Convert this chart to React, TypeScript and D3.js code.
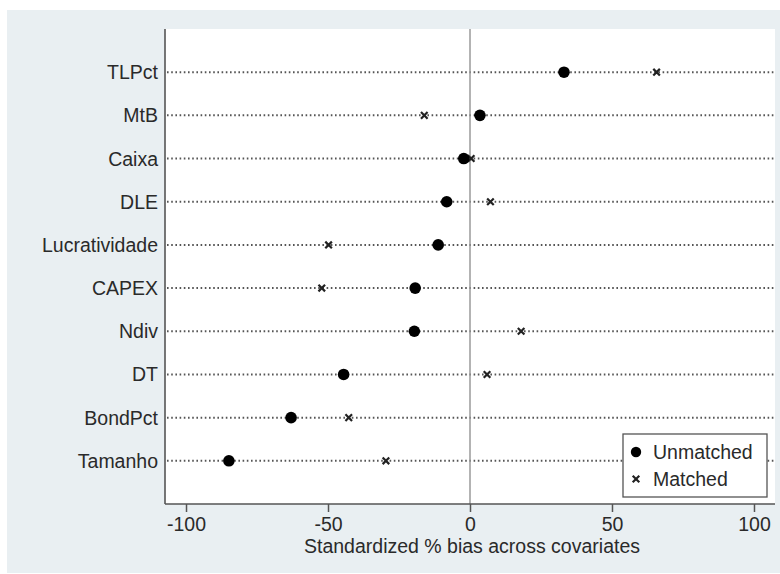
import React, { useRef, useEffect } from 'react';
import * as d3 from 'd3';

// covariates, top to bottom
const covariates = ['TLPct', 'MtB', 'Caixa', 'DLE', 'Lucratividade', 'CAPEX', 'Ndiv', 'DT', 'BondPct', 'Tamanho'];
const unmatched = [33.1, 3.5, -2.2, -8.2, -11.2, -19.3, -19.6, -44.5, -63.0, -84.9];
const matched = [65.7, -16.1, 0.4, 7.2, -49.8, -52.2, 18.0, 6.0, -42.7, -29.6];
const xTicks = [-100, -50, 0, 50, 100];
const legendLabels = ['Unmatched', 'Matched'];

const W = 780;
const H = 574;
const FONT = '"Liberation Sans", Arial, Helvetica, sans-serif';
const TEXT = '#2a2a2a';

const App = () => {
  const svgRef = useRef<SVGSVGElement>(null);

  useEffect(() => {
    document.body.style.margin = '0';
    const svg = d3.select(svgRef.current);
    svg.selectAll('*').remove();

    // outer background
    svg.append('rect')
      .attr('x', 7).attr('y', 10)
      .attr('width', W - 7).attr('height', H - 11)
      .attr('fill', '#e9eff2');

    const plot = { left: 165, right: 775, top: 29, bottom: 504 };

    svg.append('rect')
      .attr('x', plot.left).attr('y', plot.top)
      .attr('width', plot.right - plot.left).attr('height', plot.bottom - plot.top)
      .attr('fill', '#ffffff');

    const x = d3.scaleLinear()
      .domain([-107.4, 107.4])
      .range([plot.left, plot.right]);

    const y = d3.scalePoint<string>()
      .domain(covariates)
      .range([plot.top, plot.bottom])
      .padding(1);

    // dotted row lines
    svg.append('g')
      .selectAll('line')
      .data(covariates)
      .join('line')
      .attr('x1', plot.left + 2)
      .attr('x2', plot.right)
      .attr('y1', d => y(d)!)
      .attr('y2', d => y(d)!)
      .attr('stroke', '#555')
      .attr('stroke-width', 2)
      .attr('stroke-dasharray', '1.6,2.6');

    // zero reference line
    svg.append('line')
      .attr('x1', x(0)).attr('x2', x(0))
      .attr('y1', plot.top).attr('y2', plot.bottom)
      .attr('stroke', '#9a9a9a')
      .attr('stroke-width', 1.5);

    // axes
    const axisColor = '#555';
    svg.append('line')
      .attr('x1', plot.left).attr('x2', plot.left)
      .attr('y1', plot.top).attr('y2', plot.bottom)
      .attr('stroke', axisColor).attr('stroke-width', 1.6);
    svg.append('line')
      .attr('x1', plot.left).attr('x2', plot.right)
      .attr('y1', plot.bottom).attr('y2', plot.bottom)
      .attr('stroke', axisColor).attr('stroke-width', 1.6);

    const xAxis = svg.append('g')
      .attr('transform', `translate(0,${plot.bottom})`)
      .call(d3.axisBottom(x).tickValues(xTicks).tickFormat(d => String(d)).tickSize(8).tickPadding(5).tickSizeOuter(0));
    xAxis.select('.domain').remove();
    xAxis.selectAll('line').attr('stroke', axisColor).attr('stroke-width', 1.5);
    xAxis.selectAll('text')
      .attr('font-family', FONT)
      .attr('font-size', 19.5)
      .attr('fill', TEXT);

    // row labels
    svg.append('g')
      .selectAll('text')
      .data(covariates)
      .join('text')
      .attr('x', plot.left - 7)
      .attr('y', d => y(d)! + 7)
      .attr('text-anchor', 'end')
      .attr('font-family', FONT)
      .attr('font-size', 19.5)
      .attr('fill', TEXT)
      .text(d => d);

    // axis title
    svg.append('text')
      .attr('x', 472)
      .attr('y', 553)
      .attr('text-anchor', 'middle')
      .attr('font-family', FONT)
      .attr('font-size', 19.5)
      .attr('fill', TEXT)
      .text('Standardized % bias across covariates');

    const drawCross = (g: any, cx: number, cy: number) => {
      const s = 3.3;
      g.append('path')
        .attr('d', `M${cx - s},${cy - s}L${cx + s},${cy + s}M${cx - s},${cy + s}L${cx + s},${cy - s}`)
        .attr('stroke', '#222')
        .attr('stroke-width', 2.2)
        .attr('fill', 'none');
    };

    // matched markers
    const mg = svg.append('g');
    matched.forEach((v, i) => drawCross(mg, x(v), y(covariates[i])!));

    // unmatched markers
    svg.append('g')
      .selectAll('circle')
      .data(unmatched)
      .join('circle')
      .attr('cx', d => x(d))
      .attr('cy', (d, i) => y(covariates[i])!)
      .attr('r', 5.8)
      .attr('fill', '#000');

    // legend
    const lg = svg.append('g');
    lg.append('rect')
      .attr('x', 623).attr('y', 434)
      .attr('width', 144).attr('height', 63)
      .attr('fill', '#fff')
      .attr('stroke', '#555')
      .attr('stroke-width', 1.3);
    lg.append('circle')
      .attr('cx', 636).attr('cy', 452)
      .attr('r', 5.2)
      .attr('fill', '#000');
    drawCross(lg, 636, 479);
    legendLabels.forEach((t, i) => {
      lg.append('text')
        .attr('x', 653)
        .attr('y', 459 + i * 27)
        .attr('font-family', FONT)
        .attr('font-size', 19.5)
        .attr('fill', TEXT)
        .text(t);
    });
  }, []);

  return <svg ref={svgRef} width={W} height={H} style={{ display: 'block' }} />;
};

export default App;
